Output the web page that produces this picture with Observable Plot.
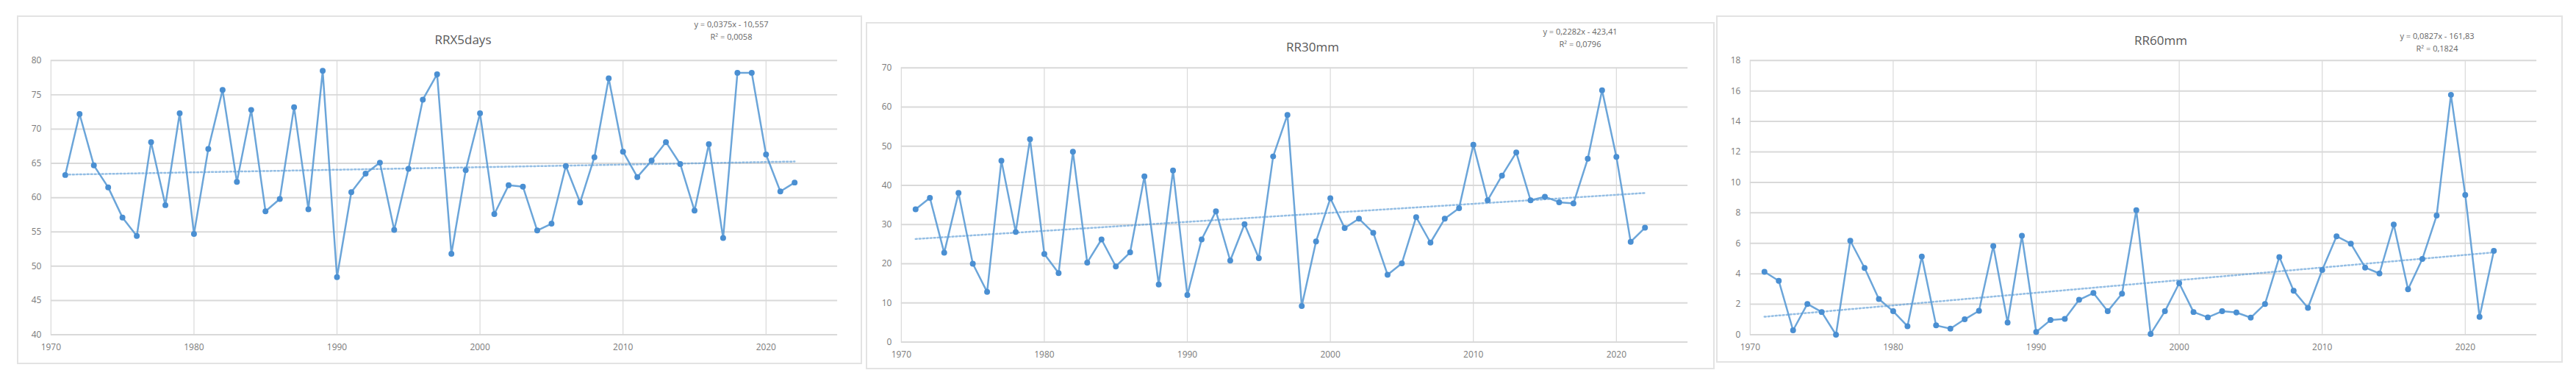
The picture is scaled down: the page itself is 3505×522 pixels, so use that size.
<!DOCTYPE html>
<html>
<head>
<meta charset="utf-8">
<script src="https://cdn.jsdelivr.net/npm/d3@7"></script>
<script src="https://cdn.jsdelivr.net/npm/@observablehq/plot@0.6"></script>
<style>
  html, body { margin: 0; padding: 0; background: #fff; }
  #page { position: relative; width: 3505px; height: 522px; overflow: hidden; background: #fff; font-family: "Open Sans", "Liberation Sans", sans-serif; }
  .panel { position: absolute; box-sizing: border-box; border: 2px solid #e3e3e3; background: #fff; }
  .panel svg { position: absolute; left: -2px; top: -2px; }
  .lbl { position: absolute; transform: translate(-50%, -50%); white-space: nowrap; color: #595959; }
  .title { font-size: 17px; }
  .eq { font-size: 11px; color: #666; }
</style>
</head>
<body>
<div id="page"></div>
<script>
// ---- data ----
const years = [1971,1972,1973,1974,1975,1976,1977,1978,1979,1980,
  1981,1982,1983,1984,1985,1986,1987,1988,1989,1990,
  1991,1992,1993,1994,1995,1996,1997,1998,1999,2000,
  2001,2002,2003,2004,2005,2006,2007,2008,2009,2010,
  2011,2012,2013,2014,2015,2016,2017,2018,2019,2020,
  2021,2022];

const rrx5days = [63.3,72.2,64.7,61.5,57.1,54.4,68.1,58.9,72.3,54.7,
  67.1,75.7,62.3,72.8,58.0,59.8,73.2,58.3,78.5,48.4,
  60.8,63.5,65.1,55.3,64.2,74.3,78.0,51.8,64.0,72.3,
  57.6,61.8,61.6,55.2,56.2,64.6,59.3,65.9,77.4,66.7,
  63.0,65.4,68.1,64.9,58.1,67.8,54.1,78.2,78.2,66.3,
  60.9,62.2];

const rr30mm = [33.9,36.8,22.8,38.1,20.0,12.8,46.3,28.1,51.8,22.5,
  17.6,48.6,20.3,26.2,19.3,22.9,42.3,14.7,43.8,12.0,
  26.2,33.4,20.8,30.1,21.4,47.4,58.0,9.2,25.7,36.7,
  29.1,31.5,27.9,17.2,20.1,31.9,25.4,31.5,34.2,50.4,
  36.2,42.5,48.4,36.2,37.1,35.7,35.4,46.8,64.3,47.3,
  25.6,29.2];

const rr60mm = [4.13,3.54,0.29,2.02,1.49,0.0,6.17,4.38,2.34,1.54,
  0.56,5.13,0.61,0.40,1.01,1.57,5.82,0.80,6.49,0.18,
  0.96,1.04,2.29,2.74,1.54,2.69,8.17,0.05,1.54,3.38,
  1.49,1.14,1.54,1.46,1.12,2.02,5.10,2.88,1.76,4.25,
  6.46,5.98,4.41,4.02,7.23,2.98,4.97,7.82,15.75,9.18,
  1.17,5.50];

const titles = ["RRX5days", "RR30mm", "RR60mm"];
const equations = ["y = 0,0375x - 10,557", "y = 0,2282x - 423,41", "y = 0,0827x - 161,83"];
const rSquared = ["R² = 0,0058", "R² = 0,0796", "R² = 0,1824"];

const xTicks = [1970, 1980, 1990, 2000, 2010, 2020];
const xDomain = [1970, 2025];
const yTicks1 = [40, 45, 50, 55, 60, 65, 70, 75, 80];
const yTicks2 = [0, 10, 20, 30, 40, 50, 60, 70];
const yTicks3 = [0, 2, 4, 6, 8, 10, 12, 14, 16, 18];

// ---- layout ----
const panels = [
  {values: rrx5days, yTicks: yTicks1, box: {x: 23, y: 21, w: 1150, h: 474},
   m: {l: 46, r: 30, t: 61, b: 39}, title: [630, 53], eq: [995, 32]},
  {values: rr30mm, yTicks: yTicks2, box: {x: 1178, y: 30, w: 1155, h: 472},
   m: {l: 48, r: 33, t: 62, b: 36}, title: [1786, 63], eq: [2150, 42]},
  {values: rr60mm, yTicks: yTicks3, box: {x: 2335, y: 21, w: 1152, h: 472},
   m: {l: 46, r: 32, t: 61, b: 37}, title: [2940, 54], eq: [3316, 48]}
];

const blue = "#5b9bd5";
const page = document.getElementById("page");

panels.forEach((p, i) => {
  const data = years.map((yr, k) => ({year: yr, v: p.values[k]}));
  const yTicks = p.yTicks;
  const div = document.createElement("div");
  div.className = "panel";
  Object.assign(div.style, {left: p.box.x + "px", top: p.box.y + "px", width: p.box.w + "px", height: p.box.h + "px"});

  const chart = Plot.plot({
    width: p.box.w,
    height: p.box.h,
    marginLeft: p.m.l, marginRight: p.m.r, marginTop: p.m.t, marginBottom: p.m.b,
    style: {fontFamily: "'Open Sans', 'Liberation Sans', sans-serif", fontSize: "12px", color: "#7a7a7a", background: "transparent", overflow: "visible"},
    x: {domain: xDomain, ticks: xTicks, tickFormat: d => String(d), tickSize: 0, tickPadding: 13, label: null},
    y: {domain: [yTicks[0], yTicks[yTicks.length - 1]], ticks: yTicks, tickSize: 0, tickPadding: 13, label: null},
    marks: [
      Plot.ruleY(yTicks, {stroke: "#d9d9d9", strokeWidth: 2}),
      Plot.ruleX(xTicks, {stroke: "#d9d9d9", strokeWidth: 1.2}),
      Plot.linearRegressionY(data, {x: "year", y: "v", ci: 0, stroke: blue, strokeOpacity: 0.65, strokeWidth: 2.5, strokeDasharray: "2,3"}),
      Plot.line(data, {x: "year", y: "v", stroke: blue, strokeWidth: 2.5, strokeOpacity: 0.9}),
      Plot.dot(data, {x: "year", y: "v", r: 4, fill: "#4a8fd2"})
    ]
  });
  div.appendChild(chart);
  page.appendChild(div);

  const t = document.createElement("div");
  t.className = "lbl title";
  t.textContent = titles[i];
  t.style.left = p.title[0] + "px";
  t.style.top = p.title[1] + "px";
  page.appendChild(t);

  const e1 = document.createElement("div");
  e1.className = "lbl eq";
  e1.textContent = equations[i];
  e1.style.left = p.eq[0] + "px";
  e1.style.top = p.eq[1] + "px";
  page.appendChild(e1);

  const e2 = document.createElement("div");
  e2.className = "lbl eq";
  e2.textContent = rSquared[i];
  e2.style.left = p.eq[0] + "px";
  e2.style.top = (p.eq[1] + 17) + "px";
  page.appendChild(e2);
});
</script>
</body>
</html>
